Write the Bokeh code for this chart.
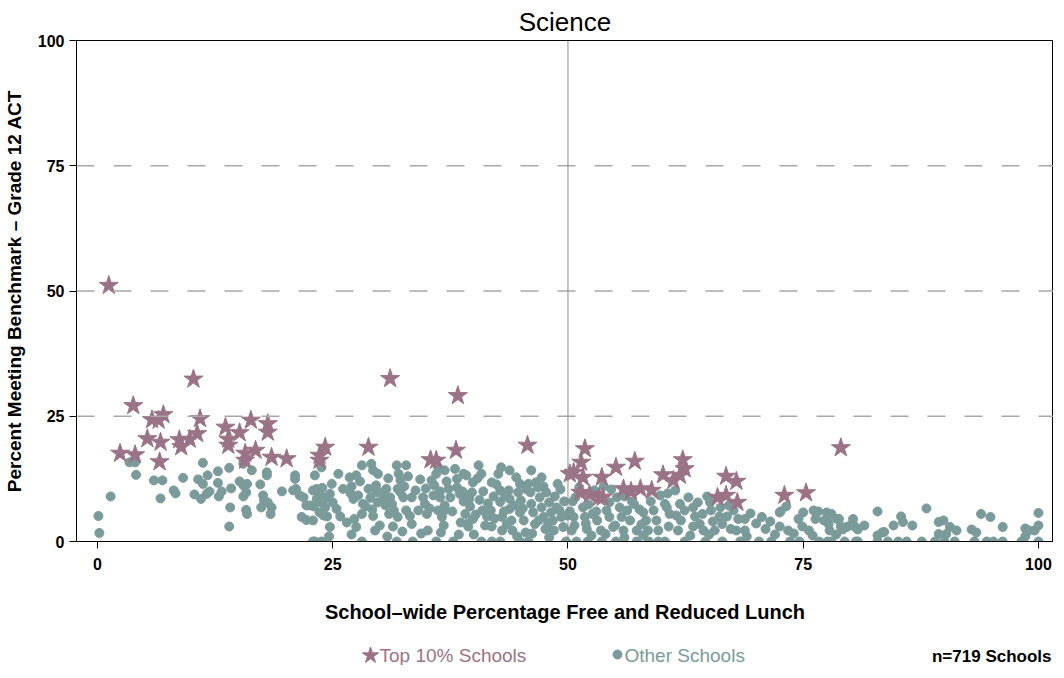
from bokeh.plotting import figure
from bokeh.layouts import column
from bokeh.models import Range1d, Span, FixedTicker
from bokeh.core.properties import value
from bokeh.embed import file_html
from bokeh.resources import INLINE

title_text = "Science"
x_label = "School\u2013wide Percentage Free and Reduced Lunch"
y_label = "Percent Meeting Benchmark \u2013 Grade 12 ACT"
tick_values = [0, 25, 50, 75, 100]
legend_top = "Top 10% Schools"
legend_other = "Other Schools"
n_note = "n=719 Schools"

# Top 10% schools (x = % free/reduced lunch, y = % meeting benchmark)
top_x = [1.2, 2.4, 3.8, 4.0, 5.3, 5.8, 6.5, 7.0, 6.7, 6.6, 8.7, 8.9, 9.8, 10.2, 10.6, 10.9,
         13.6, 13.9, 13.9, 15.1, 16.3, 15.7, 15.7, 16.8, 18.1, 18.1, 18.5, 20.1, 23.6, 23.6,
         24.2, 28.8, 31.1, 35.4, 36.0, 38.1, 38.3, 45.7, 50.2, 50.6, 51.4, 51.8, 51.6, 53.6,
         55.1, 57.1, 51.3, 52.3, 53.3, 53.7, 55.9, 56.7, 57.7, 58.9, 60.1, 61.2, 62.2, 62.4,
         61.9, 66.8, 67.9, 65.9, 66.8, 68.0, 73.0, 75.3, 79.0]
top_y = [51.1, 17.6, 27.1, 17.3, 20.5, 24.3, 24.2, 25.3, 19.8, 15.9, 20.3, 18.9, 20.4, 32.4, 21.5, 24.5,
         22.8, 20.4, 19.2, 21.7, 24.2, 17.6, 16.2, 18.2, 23.5, 21.8, 16.8, 16.5, 17.2, 16.2,
         18.8, 18.8, 32.5, 16.3, 16.2, 18.2, 29.1, 19.2, 13.5, 13.8, 15.8, 18.5, 12.8, 12.8,
         14.8, 16.0, 9.8, 9.4, 8.8, 8.8, 10.5, 10.0, 10.5, 10.2, 13.3, 12.2, 16.3, 14.5,
         13.2, 13.0, 12.0, 8.8, 9.2, 7.8, 9.2, 9.7, 18.7]

# Other schools, grouped by x range
other_00_20 = [(0.1, 5.1), (0.2, 1.7), (1.4, 9.0), (3.4, 15.8), (4.0, 15.8), (4.1, 13.3), (6.0, 12.2),
               (6.9, 12.2), (6.7, 8.6), (8.1, 10.2), (8.3, 9.6), (9.1, 12.7), (11.2, 15.7), (10.7, 12.4),
               (11.2, 11.5), (11.7, 13.2), (10.3, 9.4), (11.0, 8.5), (11.6, 9.5), (11.9, 10.0), (12.8, 14.0),
               (12.8, 11.7), (13.2, 10.0), (12.9, 9.0), (14.0, 14.7), (14.2, 10.6), (14.1, 6.8), (14.0, 3.0),
               (15.1, 12.0), (15.5, 11.2), (15.9, 11.5), (15.5, 9.0), (15.8, 9.8), (15.8, 6.3), (15.9, 5.5),
               (16.4, 14.2), (17.3, 11.4), (18.0, 13.8), (18.0, 13.2), (17.6, 9.2), (17.7, 8.2), (17.4, 6.8),
               (18.1, 7.8), (18.5, 6.8), (18.4, 5.5), (15.5, 15.5), (19.6, 10.0)]
other_20_30 = [(21.0, 13.2), (21.0, 12.5), (21.1, 10.5), (21.5, 9.2), (21.9, 8.8), (22.6, 7.2), (23.0, 7.0),
               (23.1, 13.2), (23.3, 10.5), (23.9, 10.7), (23.6, 9.2), (24.0, 8.2), (21.7, 4.9), (22.2, 4.3),
               (22.9, 4.2), (23.1, 0.0), (23.8, 0.0), (24.4, 5.0), (23.8, 14.8), (20.8, 10.2), (22.2, 7.2),
               (22.9, 10.2), (23.3, 8.5), (23.8, 7.8), (24.2, 8.8), (24.2, 6.8), (24.7, 2.9), (23.6, 5.8),
               (24.0, 5.2), (22.9, 0.0), (24.9, 11.5), (24.7, 9.5), (25.0, 7.8), (25.4, 6.5), (25.6, 13.5),
               (26.1, 10.5), (26.8, 12.8), (27.5, 13.2), (27.0, 11.0), (27.2, 8.5), (27.7, 9.2), (27.3, 4.5),
               (27.5, 2.9), (28.1, 15.2), (28.2, 7.5), (28.1, 5.5), (28.1, 0.0), (28.8, 10.5), (29.1, 15.5),
               (29.3, 14.2), (29.8, 13.5), (29.0, 8.7), (29.2, 6.4), (29.3, 5.1), (29.7, 9.8), (29.8, 7.8),
               (25.8, 5.0), (26.5, 3.8), (26.9, 9.6), (27.9, 12.0), (28.5, 7.0), (29.6, 11.2), (27.0, 1.4),
               (24.6, 1.0), (29.5, 2.2)]
other_30_40 = [(30.2, 9.8), (30.4, 8.5), (30.6, 7.2), (30.0, 3.2), (30.7, 10.5), (31.1, 8.8),
               (31.3, 7.5), (31.5, 6.2), (31.0, 5.5), (31.8, 15.2), (32.0, 13.5), (32.2, 12.2), (32.8, 15.2),
               (31.9, 10.5), (32.2, 9.8), (32.5, 8.8), (31.9, 4.9), (31.8, 0.0), (32.8, 6.2), (33.2, 5.1),
               (33.4, 3.5), (33.4, 8.8), (33.5, 0.0), (34.1, 6.2), (34.6, 8.8), (34.8, 7.5), (35.0, 5.5),
               (35.1, 2.2), (35.5, 12.2), (35.8, 11.2), (36.0, 13.5), (36.2, 14.8), (36.4, 10.0), (36.4, 8.8),
               (36.2, 6.2), (36.6, 4.9), (36.0, 0.0), (36.9, 14.2), (37.1, 12.0), (37.3, 10.5), (37.5, 8.8),
               (36.9, 7.2), (36.9, 6.2), (38.0, 14.5), (38.2, 12.5), (38.2, 10.8), (38.5, 9.5), (38.9, 13.5),
               (38.8, 10.0), (38.9, 8.0), (39.1, 5.5), (39.3, 3.5), (37.8, 0.0), (39.5, 8.5), (39.2, 13.2),
               (39.9, 11.8), (39.4, 9.0), (39.6, 7.0), (39.9, 4.5), (39.4, 3.0), (30.9, 12.6), (31.4, 3.0),
               (32.6, 11.0), (33.0, 13.0), (33.8, 10.2), (34.3, 12.4), (34.9, 10.6), (35.3, 6.6), (35.7, 9.2),
               (36.8, 3.2), (37.7, 6.0), (38.6, 3.8), (39.8, 9.8), (38.4, 1.4), (36.5, 1.8), (34.4, 1.6),
               (32.4, 2.0), (30.8, 1.0)]
other_40_50 = [(40.5, 15.2), (40.8, 13.5), (40.6, 8.3), (40.9, 6.2), (41.2, 3.2), (40.8, 0.0), (41.9, 11.8),
               (42.1, 9.0), (41.8, 6.2), (41.9, 3.0), (41.9, 0.0), (42.6, 13.5), (42.9, 14.8), (42.8, 10.2),
               (42.8, 7.9), (43.0, 4.9), (43.0, 2.2), (42.8, 0.0), (43.8, 14.2), (43.7, 10.2), (43.8, 8.5),
               (43.8, 6.5), (44.0, 4.2), (44.1, 2.2), (44.7, 9.8), (44.9, 11.5), (45.0, 8.2), (44.9, 5.8),
               (45.3, 4.2), (45.5, 1.8), (44.9, 0.0), (45.8, 11.5), (46.0, 9.8), (46.1, 14.2), (46.1, 7.5),
               (46.3, 5.8), (46.5, 3.5), (45.8, 0.0), (46.8, 10.8), (47.0, 8.8), (47.2, 12.8), (47.2, 6.8),
               (47.4, 4.9), (47.6, 2.5), (47.7, 9.8), (48.0, 7.8), (48.2, 5.8), (48.4, 4.2), (48.5, 2.2),
               (48.9, 11.5), (49.1, 6.2), (49.3, 4.9), (49.5, 2.9), (49.8, 0.0), (40.2, 5.4), (40.4, 12.6),
               (41.0, 10.0), (41.5, 7.6), (42.2, 4.6), (42.4, 11.4), (43.3, 9.2), (43.5, 3.4), (44.3, 7.2),
               (44.5, 12.8), (45.2, 6.6), (45.6, 10.4), (46.6, 11.8), (46.9, 4.2), (47.4, 11.0), (47.9, 3.6),
               (48.6, 9.0), (48.8, 6.8), (49.2, 10.4), (49.6, 8.0), (49.9, 5.2), (43.2, 6.0), (41.4, 5.0),
               (40.0, 1.4), (44.6, 1.0), (46.2, 1.6), (48.0, 0.8)]
other_50_60 = [(50.2, 6.0), (50.6, 4.9), (50.7, 3.2), (50.4, 2.2), (50.9, 0.0), (51.6, 6.8), (51.8, 4.9),
               (52.0, 2.5), (52.1, 0.0), (52.6, 5.5), (53.1, 4.2), (53.5, 2.2), (53.6, 0.0), (54.4, 7.8),
               (54.1, 6.2), (54.4, 4.9), (54.8, 2.9), (55.1, 0.0), (55.5, 6.8), (55.7, 4.9), (55.9, 2.2),
               (56.3, 6.2), (56.6, 4.2), (57.0, 7.5), (57.3, 2.2), (57.3, 0.0), (58.0, 5.8), (58.3, 4.2),
               (58.5, 2.2), (58.6, 0.0), (59.1, 6.2), (59.4, 4.2), (59.6, 2.2), (59.6, 0.0), (50.8, 8.8),
               (51.2, 10.8), (52.2, 7.4), (52.8, 10.2), (53.8, 11.0), (54.6, 10.4), (55.2, 8.8), (56.0, 9.0),
               (56.8, 8.0), (57.6, 6.4), (58.8, 8.0), (59.8, 9.2), (52.5, 1.2), (54.0, 1.5), (56.0, 0.8),
               (58.0, 1.2), (50.5, 8.0), (51.9, 3.6), (53.0, 6.0), (55.0, 3.2), (57.8, 3.4)]
other_60_80 = [(60.3, 7.5), (60.5, 6.8), (60.8, 5.5), (60.7, 3.0), (60.3, 0.0), (61.9, 7.5), (61.5, 5.2),
               (62.0, 4.2), (61.7, 2.2), (62.4, 6.2), (62.4, 0.0), (63.3, 6.8), (63.5, 5.0), (63.3, 3.0),
               (64.0, 3.5), (64.3, 5.5), (64.4, 2.2), (64.6, 0.0), (65.1, 7.8), (65.2, 6.2), (65.6, 2.2),
               (66.1, 5.0), (66.4, 3.5), (66.4, 0.0), (67.1, 7.2), (66.9, 5.0), (67.3, 2.5), (68.1, 4.5),
               (67.9, 2.2), (68.8, 4.5), (68.8, 2.2), (68.3, 0.0), (70.6, 4.9), (71.0, 2.5), (70.3, 0.0),
               (71.6, 0.0), (72.5, 5.8), (72.6, 6.0), (73.2, 7.0), (72.5, 3.0), (73.4, 2.2), (73.6, 0.0),
               (74.5, 4.5), (74.9, 3.0), (75.0, 5.8), (74.6, 0.0), (75.6, 2.2), (76.1, 6.2), (76.3, 4.5),
               (76.7, 0.0), (77.5, 5.8), (77.6, 4.0), (77.8, 2.2), (78.0, 0.0), (78.6, 4.5), (79.0, 3.0),
               (79.4, 0.0), (60.6, 9.6), (61.4, 10.2), (62.8, 8.8), (63.8, 7.8), (64.8, 9.0), (65.4, 4.0),
               (66.2, 6.8), (67.6, 6.2), (69.4, 5.6), (69.0, 1.0), (63.0, 1.2), (65.0, 1.4), (70.0, 3.6),
               (71.5, 4.0), (72.0, 1.4), (74.0, 1.6), (76.0, 1.2), (78.5, 1.4), (76.6, 6.0), (77.2, 4.2),
               (77.7, 3.5), (78.0, 5.5), (78.8, 4.5), (79.2, 2.4), (79.6, 2.9), (77.6, 0.0)]
other_80_100 = [(80.3, 4.5), (80.5, 3.0), (80.8, 0.0), (80.0, 3.2), (80.8, 2.4), (81.5, 3.2), (82.9, 6.0),
                (82.9, 1.2), (83.6, 1.9), (84.6, 3.2), (85.4, 5.0), (85.6, 3.9), (86.6, 3.2), (88.1, 6.6),
                (89.4, 3.9), (89.9, 4.2), (90.6, 2.9), (91.3, 2.2), (89.4, 1.5), (90.2, 1.5), (93.4, 1.8),
                (93.9, 5.5), (94.9, 4.9), (96.2, 2.9), (98.6, 2.6), (99.0, 2.2), (99.6, 2.2), (100.0, 5.7),
                (100.0, 3.2), (98.6, 1.0), (92.9, 2.4), (83.4, 1.8), (80.6, 0.0), (82.9, 0.0), (84.0, 0.0),
                (85.1, 0.0), (86.0, 0.0), (87.6, 0.0), (89.0, 0.0), (90.0, 0.0), (91.1, 0.0), (93.2, 0.0),
                (94.5, 0.0), (95.2, 0.0), (96.2, 0.0), (98.2, 0.0), (100.0, 0.0)]

other_pts = other_00_20 + other_20_30 + other_30_40 + other_40_50 + other_50_60 + other_60_80 + other_80_100
other_x = [p[0] for p in other_pts]
other_y = [p[1] for p in other_pts]

STAR = "#9a7386"
DOT = "#7a9b9a"
FONT = "Liberation Sans"
LEFT = 75

p = figure(frame_width=977, frame_height=501, output_backend="svg", toolbar_location=None,
           x_range=Range1d(-2.23, 101.6), y_range=Range1d(0, 100),
           min_border_left=LEFT, min_border_right=0, min_border_top=30, min_border_bottom=88)
p.title.text = title_text
p.title.align = "center"
p.title.text_font = FONT
p.title.text_font_size = "26px"
p.title.text_font_style = "normal"
p.title.text_color = "black"
p.title.standoff = 8

p.outline_line_color = "black"
p.outline_line_width = 1
p.xgrid.grid_line_color = None
p.ygrid.grid_line_color = None

for yv in [25, 50, 75]:
    p.add_layout(Span(location=yv, dimension="width", line_color="#a8a8a8", line_width=1.3,
                      line_dash="18 19"))
p.add_layout(Span(location=50, dimension="height", line_color="#8c8c8c", line_width=1))

p.scatter(other_x, other_y, marker="circle", size=9, fill_color=DOT, line_color=DOT)
p.scatter(top_x, top_y, marker="star", size=20, fill_color=STAR, line_color=STAR)

for ax in (p.xaxis[0], p.yaxis[0]):
    ax.ticker = FixedTicker(ticks=tick_values)
    ax.axis_line_color = "black"
    ax.major_tick_line_color = "black"
    ax.major_tick_in = 0
    ax.major_tick_out = 7
    ax.minor_tick_line_color = None
    ax.major_label_text_font = FONT
    ax.major_label_text_font_size = "16px"
    ax.major_label_text_font_style = "bold"
    ax.major_label_text_color = "black"
    ax.axis_label_text_font = FONT
    ax.axis_label_text_font_style = "bold"
    ax.axis_label_text_color = "black"

p.xaxis.axis_label = x_label
p.yaxis.axis_label = y_label
p.xaxis.axis_label_text_font_size = "20px"
p.yaxis.axis_label_text_font_size = "19px"
p.xaxis.major_label_standoff = 9
p.xaxis.axis_label_standoff = 28
p.yaxis.major_label_standoff = 5
p.yaxis.axis_label_standoff = 10

# legend strip below the chart, x in page-like pixel units aligned with the chart frame
lg = figure(frame_width=977, height=36, output_backend="svg", toolbar_location=None,
            x_range=Range1d(75, 1052), y_range=Range1d(0, 36),
            x_axis_type=None, y_axis_type=None,
            min_border_left=LEFT, min_border_right=0, min_border_top=0, min_border_bottom=0)
lg.outline_line_color = None
lg.xgrid.grid_line_color = None
lg.ygrid.grid_line_color = None
lg.scatter([369], [10], marker="star", size=17, fill_color=STAR, line_color=STAR)
lg.scatter([616], [11], marker="circle", size=9, fill_color=DOT, line_color=DOT)
lg.text([378], [10], text=[legend_top], text_color=STAR, text_font=value(FONT),
        text_font_size="19px", text_baseline="middle")
lg.text([623], [10], text=[legend_other], text_color=DOT, text_font=value(FONT),
        text_font_size="19px", text_baseline="middle")
lg.text([1050], [9], text=[n_note], text_color="black", text_font=value(FONT),
        text_font_size="17px", text_font_style="bold", text_baseline="middle", text_align="right")

layout = column(p, lg, spacing=0)
open("out.html", "w").write(file_html(layout, INLINE))
